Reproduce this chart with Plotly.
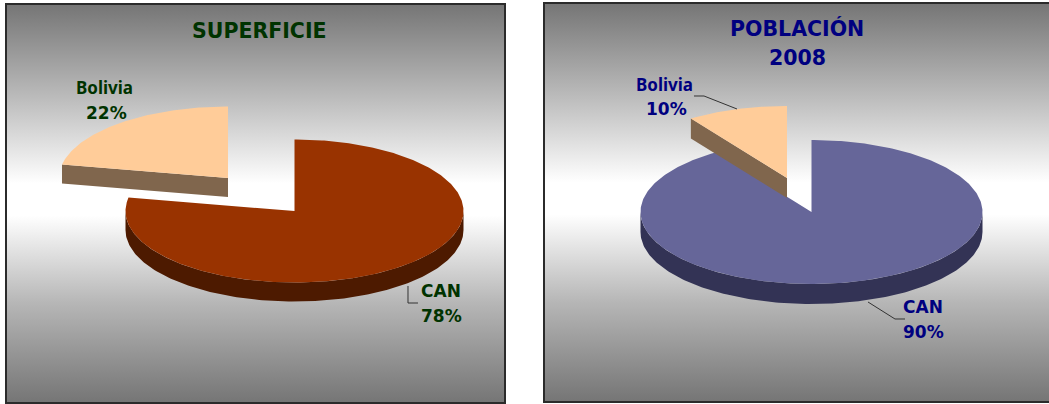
import math
import plotly.graph_objects as go

# ---- data ----
categories = ["Bolivia", "CAN"]
superficie_values = [22, 78]
poblacion_values = [9.5, 90.5]
superficie_labels = ["22%", "78%"]
poblacion_labels = ["10%", "90%"]
titles = ["SUPERFICIE", "POBLACIÓN", "2008"]

W, H = 1049, 404

GRADIENT = [[0, "#757575"], [0.25, "#b6b6b6"], [0.47, "#ffffff"], [0.55, "#ffffff"], [0.76, "#bdbdbd"], [1, "#757575"]]


def arc(start, end, n=120):
    return [math.radians(start + (end - start) * i / n) for i in range(n + 1)]


def make_panel(fig, idx, values, cfg):
    xn, yn = f"x{idx}" if idx > 1 else "x", f"y{idx}" if idx > 1 else "y"
    l, r, t, b = cfg["box"]
    cx, cy, rx, ry, depth = cfg["geom"]
    d = depth / ry
    ex, ey = cfg["explode"]
    ex, ey = ex / rx, ey / ry
    # background
    fig.add_trace(go.Scatter(x=[(l - cx) / rx, (r - cx) / rx, (r - cx) / rx, (l - cx) / rx, (l - cx) / rx],
                             y=[(cy - t) / ry, (cy - t) / ry, (cy - b) / ry, (cy - b) / ry, (cy - t) / ry],
                             xaxis=xn, yaxis=yn, mode="lines", line=dict(width=0), fill="toself",
                             fillgradient=dict(type="vertical", colorscale=GRADIENT),
                             hoverinfo="skip", showlegend=False))
    sweep_b = 360 * values[0] / sum(values)
    # CAN: clockwise from 12 o'clock, ends where Bolivia begins
    can_ang = arc(90, 90 - (360 - sweep_b), 360)
    front = arc(180, 360, 180)
    fx = [math.cos(a) for a in front]
    fy = [math.sin(a) for a in front]
    wall_x = fx + fx[::-1]
    wall_y = fy + [v - d for v in fy[::-1]]
    fig.add_trace(go.Scatter(x=wall_x, y=wall_y, xaxis=xn, yaxis=yn, mode="lines", line=dict(width=0),
                             fill="toself", fillcolor=cfg["can_side"], hoverinfo="skip", showlegend=False))
    fig.add_trace(go.Scatter(x=[0] + [math.cos(a) for a in can_ang] + [0],
                             y=[0] + [math.sin(a) for a in can_ang] + [0],
                             xaxis=xn, yaxis=yn, mode="lines", line=dict(width=0), fill="toself",
                             fillcolor=cfg["can_top"], name=categories[1], showlegend=False))
    # Bolivia: counter-clockwise from 12 o'clock, exploded
    bang = arc(90, 90 + sweep_b)
    ox, oy = math.cos(bang[-1]), math.sin(bang[-1])
    fig.add_trace(go.Scatter(x=[ex, ex + ox, ex + ox, ex, ex],
                             y=[ey, ey + oy, ey + oy - d, ey - d, ey],
                             xaxis=xn, yaxis=yn, mode="lines", line=dict(width=0), fill="toself",
                             fillcolor="#80664d", hoverinfo="skip", showlegend=False))
    fig.add_trace(go.Scatter(x=[ex] + [ex + math.cos(a) for a in bang] + [ex],
                             y=[ey] + [ey + math.sin(a) for a in bang] + [ey],
                             xaxis=xn, yaxis=yn, mode="lines", line=dict(width=0), fill="toself",
                             fillcolor="#ffcc99", name=categories[0], showlegend=False))


fig = go.Figure()
panels = [
    dict(box=(6, 505, 4, 403), geom=(294.5, 211, 169, 71.5, 19), explode=(-66.5, 33),
         can_top="#993300", can_side="#4d1a00"),
    dict(box=(544, 1049, 3, 402), geom=(811.5, 212, 171, 72, 20), explode=(-24.5, 34),
         can_top="#666699", can_side="#333355"),
]
make_panel(fig, 1, superficie_values, panels[0])
make_panel(fig, 2, poblacion_values, panels[1])


def axes(cfg):
    l, r, t, b = cfg["box"]
    cx, cy, rx, ry, _ = cfg["geom"]
    common = dict(visible=False, fixedrange=True, showgrid=False, zeroline=False)
    xa = dict(domain=[l / W, r / W], range=[(l - cx) / rx, (r - cx) / rx], **common)
    ya = dict(domain=[1 - b / H, 1 - t / H], range=[(cy - b) / ry, (cy - t) / ry], **common)
    return xa, ya


xa1, ya1 = axes(panels[0])
xa2, ya2 = axes(panels[1])


def txt(px, py, text, color, size, family="DejaVu Sans"):
    return dict(x=px / W, y=1 - py / H, xref="paper", yref="paper", text=text, showarrow=False,
                xanchor="center", yanchor="middle",
                font=dict(family=family, size=size, color=color, weight="bold"))


def leader(points):
    path = "M " + " L ".join(f"{x / W:.5f},{1 - y / H:.5f}" for x, y in points)
    return dict(type="path", path=path, xref="paper", yref="paper", line=dict(color="#333333", width=1))


def frame(l, r, t, b):
    return dict(type="rect", x0=l / W, x1=r / W, y0=1 - b / H, y1=1 - t / H, xref="paper", yref="paper",
                line=dict(color="#2b2b2b", width=2), fillcolor="rgba(0,0,0,0)")


GREEN, NAVY = "#003300", "#000080"
TS, LS, BS = 20.5, 17, 17
NARROW = "Noto Sans"
annotations = [
    txt(259, 31, titles[0], GREEN, TS),
    txt(104, 88, categories[0], GREEN, BS, NARROW),
    txt(106, 113, superficie_labels[0], GREEN, LS),
    txt(441, 291, categories[1], GREEN, LS),
    txt(441, 316, superficie_labels[1], GREEN, LS),
    txt(797, 29, titles[1], NAVY, TS),
    txt(797, 58, titles[2], NAVY, TS),
    txt(664, 85, categories[0], NAVY, BS, NARROW),
    txt(666, 109, poblacion_labels[0], NAVY, LS),
    txt(923, 307, categories[1], NAVY, LS),
    txt(923, 332, poblacion_labels[1], NAVY, LS),
]
shapes = [
    frame(6, 505, 4, 403),
    frame(544, 1052, 3, 402),
    leader([(408, 286), (408, 303), (418, 303)]),
    leader([(868, 302), (895, 319), (905, 319)]),
    leader([(737, 109), (704, 96), (694, 96)]),
]

fig.update_layout(width=W, height=H, margin=dict(l=0, r=0, t=0, b=0), autosize=False,
                  paper_bgcolor="white", plot_bgcolor="rgba(0,0,0,0)", showlegend=False,
                  xaxis=xa1, yaxis=dict(anchor="x", **ya1),
                  xaxis2=dict(anchor="y2", **xa2), yaxis2=dict(anchor="x2", **ya2),
                  annotations=annotations, shapes=shapes)
fig.write_html("out.html", config={"displayModeBar": False},
               post_script="document.body.style.margin='0';document.documentElement.style.overflow='hidden';")
